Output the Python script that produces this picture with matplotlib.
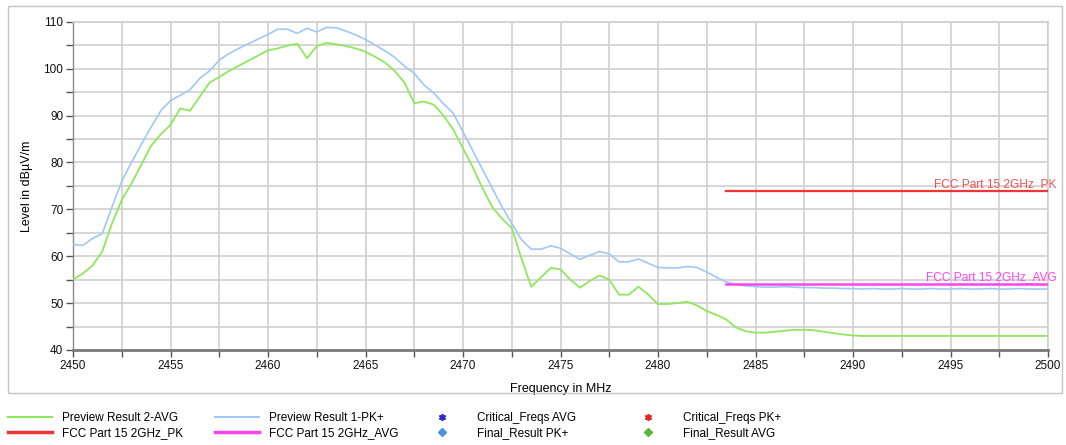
import numpy as np
import matplotlib
matplotlib.use("Agg")
import matplotlib.pyplot as plt
from matplotlib.lines import Line2D
from matplotlib.patches import Rectangle
from matplotlib.ticker import MultipleLocator

plt.rcParams['font.family'] = ['Liberation Sans', 'DejaVu Sans']

# ---------------- data ----------------
freq_mhz = np.arange(2450.0, 2500.01, 0.5)

pk_level = [
    62.5, 62.3, 63.8, 64.8, 70.5, 76.0, 80.0, 83.8, 87.5, 91.0,
    93.2, 94.3, 95.5, 97.9, 99.5, 101.8, 103.2, 104.3, 105.3, 106.3,
    107.3, 108.4, 108.4, 107.5, 108.6, 107.8, 108.8, 108.7, 108.0, 107.2,
    106.2, 105.0, 103.8, 102.4, 100.5, 99.0, 96.5, 94.8, 92.5, 90.5,
    86.5, 82.5, 78.5, 74.5, 70.5, 67.0, 63.5, 61.5, 61.5, 62.2,
    61.7, 60.5, 59.3, 60.2, 61.0, 60.5, 58.8, 58.8, 59.4, 58.5,
    57.6, 57.5, 57.5, 57.8, 57.6, 56.6, 55.5, 54.5, 54.0, 53.7,
    53.5, 53.4, 53.4, 53.5, 53.4, 53.3, 53.3, 53.2, 53.2, 53.1,
    53.1, 53.0, 53.1, 53.0, 53.0, 53.1, 53.0, 53.0, 53.1, 53.0,
    53.0, 53.1, 53.0, 53.0, 53.1, 53.0, 53.0, 53.1, 53.0, 53.0,
    53.0,
]

avg_level = [
    55.0, 56.3, 58.0, 61.0, 67.0, 72.0, 75.5, 79.5, 83.5, 86.0,
    88.0, 91.5, 91.0, 94.0, 97.0, 98.2, 99.5, 100.6, 101.7, 102.8,
    103.9, 104.3, 104.9, 105.3, 102.2, 104.8, 105.5, 105.2, 104.8, 104.3,
    103.6, 102.5, 101.3, 99.5, 97.0, 92.6, 93.0, 92.3, 90.0, 87.0,
    83.0, 79.0, 74.5, 70.5, 68.0, 66.0, 59.5, 53.5, 55.5, 57.5,
    57.2, 55.0, 53.3, 54.7, 55.9, 55.0, 51.8, 51.8, 53.5, 51.8,
    49.8, 49.8, 50.0, 50.3, 49.5, 48.3, 47.5, 46.5, 44.8, 44.0,
    43.7, 43.7, 43.9, 44.1, 44.3, 44.3, 44.2, 43.9, 43.6, 43.3,
    43.1, 43.0, 43.0, 43.0, 43.0, 43.0, 43.0, 43.0, 43.0, 43.0,
    43.0, 43.0, 43.0, 43.0, 43.0, 43.0, 43.0, 43.0, 43.0, 43.0,
    43.0,
]

limit_freq = [2483.5, 2500.0]
pk_limit = [74.0, 74.0]
avg_limit = [54.0, 54.0]

x_ticks = [2450, 2455, 2460, 2465, 2470, 2475, 2480, 2485, 2490, 2495, 2500]
y_ticks = [40, 50, 60, 70, 80, 90, 100, 110]

# ---------------- style ----------------
c_green = '#8fe85c'
c_blue = '#9ec9f5'
c_red = '#ee3535'
c_mag = '#ff44ee'
grid_c = '#cfcfcf'
tick_c = '#555555'

fig = plt.figure(figsize=(10.66, 4.45), dpi=100)
W, H = 1066, 445

# outer frame
fig.patches.append(Rectangle((8 / W, 1 - 393 / H), (1062 - 8) / W, (393 - 6) / H,
                             transform=fig.transFigure, fill=False,
                             edgecolor='#c4c4c4', linewidth=1.0))

ax = fig.add_axes([73 / W, 1 - 350 / H, (1048 - 73) / W, (350 - 21.7) / H])

ax.plot(freq_mhz, pk_level, color=c_blue, lw=1.2, zorder=3)
ax.plot(freq_mhz, avg_level, color=c_green, lw=1.3, zorder=3)
ax.plot(limit_freq, pk_limit, color=c_red, lw=1.6, zorder=4)
ax.plot(limit_freq, avg_limit, color=c_mag, lw=1.8, zorder=4)

ax.text(2500.45, 75.3, 'FCC Part 15 2GHz_PK', color=c_red, ha='right', va='center',
        fontsize=8.6, clip_on=False, alpha=0.85)
ax.text(2500.45, 55.6, 'FCC Part 15 2GHz_AVG', color=c_mag, ha='right', va='center',
        fontsize=8.6, clip_on=False)

ax.set_xlim(2450, 2500)
ax.set_ylim(40, 110)
ax.set_xticks(x_ticks)
ax.set_yticks(y_ticks)
ax.xaxis.set_minor_locator(MultipleLocator(2.5))
ax.yaxis.set_minor_locator(MultipleLocator(5))
ax.grid(True, which='both', color=grid_c, lw=1.2, zorder=0)
ax.set_axisbelow(True)

ax.tick_params(which='both', direction='out', length=5, width=1.0, color=tick_c,
               labelsize=8.5, labelcolor='#111111', pad=2)
ax.tick_params(axis='x', which='both', top=False)
ax.tick_params(axis='y', which='both', right=False)

for s in ['top', 'right']:
    ax.spines[s].set_color(grid_c)
    ax.spines[s].set_linewidth(1.2)
ax.spines['left'].set_color('#8a8a8a')
ax.spines['left'].set_linewidth(1.0)
ax.spines['bottom'].set_color('#7a7a7a')
ax.spines['bottom'].set_linewidth(2.0)

ax.set_xlabel('Frequency in MHz', fontsize=9, labelpad=8)
ax.set_ylabel('Level in dBµV/m', fontsize=9)
ax.yaxis.set_label_coords(-0.041, 0.5)

# ---------------- legend ----------------
def make_leg(handles, labels, x_px, hl):
    leg = fig.legend(handles, labels, loc='upper left',
                     bbox_to_anchor=(x_px / W, 1 - 412 / H),
                     frameon=False, fontsize=8.5, borderpad=0, borderaxespad=0,
                     handlelength=hl, handletextpad=0.9, labelspacing=0.28)
    return leg

make_leg([Line2D([], [], color=c_green, lw=1.5), Line2D([], [], color=c_red, lw=2.5)],
         ['Preview Result 2-AVG', 'FCC Part 15 2GHz_PK'], 8, 3.7)
make_leg([Line2D([], [], color=c_blue, lw=1.5), Line2D([], [], color=c_mag, lw=2.5)],
         ['Preview Result 1-PK+', 'FCC Part 15 2GHz_AVG'], 215, 3.7)
make_leg([Line2D([], [], color='#2a2ad0', marker=(6, 2, 0), ls='none', markersize=5, mew=1.2),
          Line2D([], [], color='#4a94dc', marker='D', ls='none', markersize=4.5)],
         ['Critical_Freqs AVG', 'Final_Result PK+'], 418, 4.1)
make_leg([Line2D([], [], color='#ee2222', marker=(6, 2, 0), ls='none', markersize=5, mew=1.2),
          Line2D([], [], color='#58b838', marker='D', ls='none', markersize=4.5)],
         ['Critical_Freqs PK+', 'Final_Result AVG'], 624, 4.1)

fig.savefig('out.png', dpi=100)
